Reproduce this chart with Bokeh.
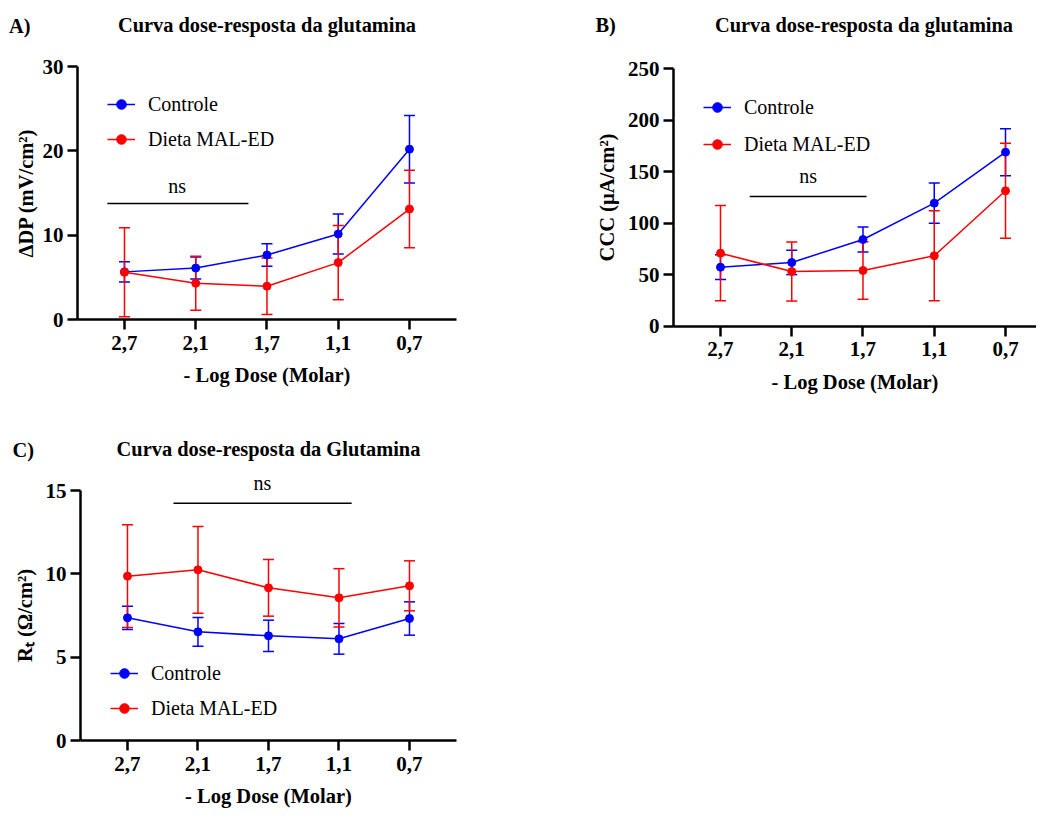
from bokeh.plotting import figure
from bokeh.models import (ColumnDataSource, Whisker, TeeHead, FixedTicker, Label,
                          Legend, LegendItem, Range1d)
from bokeh.layouts import column, row
from bokeh.embed import file_html
from bokeh.resources import INLINE

# ---------------- data ----------------
doses = ["2,7", "2,1", "1,7", "1,1", "0,7"]
series_names = ["Controle", "Dieta MAL-ED"]

# Panel A: ΔDP (mV/cm²)
a_ctrl = [5.65, 6.1, 7.65, 10.15, 20.2]
a_ctrl_err = [1.2, 1.3, 1.33, 2.37, 4.0]
a_diet = [5.6, 4.3, 3.95, 6.75, 13.1]
a_diet_err = [5.27, 3.2, 3.35, 4.4, 4.6]
a_yticks = [0, 10, 20, 30]

# Panel B: CCC (µA/cm²)
b_ctrl = [57.3, 61.9, 84.2, 119.5, 169.0]
b_ctrl_err = [12.0, 11.8, 12.2, 19.6, 22.8]
b_diet = [70.9, 53.1, 54.1, 68.4, 131.5]
b_diet_err = [46.3, 28.7, 28.0, 43.7, 46.1]
b_yticks = [0, 50, 100, 150, 200, 250]

# Panel C: Rt (Ω/cm²)
c_ctrl = [7.36, 6.52, 6.28, 6.10, 7.32]
c_ctrl_err = [0.70, 0.86, 0.94, 0.92, 1.00]
c_diet = [9.86, 10.24, 9.16, 8.56, 9.28]
c_diet_err = [3.08, 2.60, 1.70, 1.75, 1.50]
c_yticks = [0, 5, 10, 15]

BLUE = "#0000ff"
RED = "#ff0000"
SERIF = "Liberation Serif"


def make_panel(ctrl, ctrl_err, diet, diet_err, yticks, ylabel, title, letter,
               width, height, xr, yr, xbounds, title_pos, letter_pos,
               ns_pos, ns_line, legend_loc, legend_spacing, ylabel_standoff):
    p = figure(width=width, height=height, output_backend="svg",
               toolbar_location=None, min_border=0,
               x_range=Range1d(*xr), y_range=Range1d(*yr))
    p.title.visible = False
    p.outline_line_color = None
    p.xgrid.grid_line_color = None
    p.ygrid.grid_line_color = None
    p.background_fill_color = "white"
    p.border_fill_color = "white"

    xs = list(range(len(doses)))
    renderers = []
    for vals, errs, color in ((ctrl, ctrl_err, BLUE), (diet, diet_err, RED)):
        src = ColumnDataSource(dict(
            x=xs, y=vals,
            upper=[v + e for v, e in zip(vals, errs)],
            lower=[v - e for v, e in zip(vals, errs)]))
        w = Whisker(source=src, base="x", upper="upper", lower="lower",
                    line_color=color, line_width=1.5,
                    upper_head=TeeHead(size=11, line_color=color, line_width=1.5),
                    lower_head=TeeHead(size=11, line_color=color, line_width=1.5))
        p.add_layout(w)
        ln = p.line("x", "y", source=src, line_color=color, line_width=1.5)
        sc = p.scatter("x", "y", source=src, size=8, fill_color=color,
                       line_color=color)
        renderers.append((ln, sc))

    # axes, drawn at fixed data positions inside the frame
    for ax in (p.xaxis[0], p.yaxis[0]):
        ax.axis_line_width = 2.5
        ax.axis_line_color = "black"
        ax.major_tick_line_width = 2.5
        ax.major_tick_line_color = "black"
        ax.major_tick_out = 10
        ax.major_tick_in = 0
        ax.minor_tick_line_color = None
        ax.major_label_text_font = SERIF
        ax.major_label_text_font_style = "bold"
        ax.major_label_text_font_size = "21px"
        ax.major_label_text_color = "black"
        ax.axis_label_text_font = SERIF
        ax.axis_label_text_font_style = "bold"
        ax.axis_label_text_font_size = "20.5px"
        ax.axis_label_text_color = "black"

    p.xaxis.ticker = FixedTicker(ticks=xs)
    p.xaxis.major_label_overrides = {i: d for i, d in enumerate(doses)}
    p.xaxis.axis_label = "- Log Dose (Molar)"
    p.xaxis.major_label_standoff = 6
    p.xaxis.axis_label_standoff = 11
    p.xaxis.fixed_location = yticks[0]
    p.xaxis.bounds = xbounds
    p.yaxis.ticker = FixedTicker(ticks=yticks)
    p.yaxis.axis_label = ylabel
    p.yaxis.major_label_standoff = 4
    p.yaxis.axis_label_standoff = ylabel_standoff
    p.yaxis.fixed_location = xbounds[0]
    p.yaxis.bounds = (yticks[0], yticks[-1])

    # legend
    items = [LegendItem(label=n, renderers=list(r))
             for n, r in zip(series_names, renderers)]
    leg = Legend(items=items, location=legend_loc, glyph_width=28,
                 glyph_height=24, label_height=24, label_standoff=13,
                 spacing=legend_spacing, padding=0, margin=0,
                 border_line_color=None, background_fill_alpha=0,
                 label_text_font=SERIF, label_text_font_size="20px",
                 label_text_color="black")
    p.add_layout(leg)

    # ns bracket
    p.line(x=[ns_line[0], ns_line[1]], y=[ns_line[2], ns_line[2]],
           line_color="black", line_width=1.5)
    p.add_layout(Label(x=ns_pos[0], y=ns_pos[1], text="ns", text_align="center",
                       text_baseline="alphabetic", text_font=SERIF,
                       text_font_size="20px", text_color="black"))

    # title and panel letter
    p.add_layout(Label(x=title_pos[0], y=title_pos[1], text=title,
                       text_align="center", text_baseline="alphabetic",
                       text_font=SERIF, text_font_style="bold",
                       text_font_size="20.4px", text_color="black"))
    p.add_layout(Label(x=letter_pos[0], y=letter_pos[1], text=letter,
                       text_align="left", text_baseline="alphabetic",
                       text_font=SERIF, text_font_style="bold",
                       text_font_size="20.4px", text_color="black"))
    return p


pA = make_panel(a_ctrl, a_ctrl_err, a_diet, a_diet_err, a_yticks,
                "ΔDP (mV/cm²)", "Curva dose-resposta da glutamina", "A)",
                width=512, height=416, xr=(-1.740, 5.446), yr=(-11.50, 37.83),
                xbounds=(-0.66, 4.66),
                title_pos=(2.0, 34.98), letter_pos=(-1.62, 34.86),
                ns_pos=(0.74, 15.89), ns_line=(-0.24, 1.74, 13.75),
                legend_loc=(107, 265), legend_spacing=11, ylabel_standoff=3)

pB = make_panel(b_ctrl, b_ctrl_err, b_diet, b_diet_err, b_yticks,
                "CCC (µA/cm²)", "Curva dose-resposta da glutamina", "B)",
                width=524, height=416, xr=(-2.919, 4.435), yr=(-87.7, 316.3),
                xbounds=(-0.66, 4.43),
                title_pos=(2.014, 292.5), letter_pos=(-1.754, 292.1),
                ns_pos=(1.23, 145.4), ns_line=(0.41, 2.05, 126.0),
                legend_loc=(191, 260), legend_spacing=13, ylabel_standoff=7)

pC = make_panel(c_ctrl, c_ctrl_err, c_diet, c_diet_err, c_yticks,
                "Rₜ (Ω/cm²)", "Curva dose-resposta da Glutamina", "C)",
                width=512, height=393, xr=(-1.801, 5.461), yr=(-4.14, 19.44),
                xbounds=(-0.667, 4.667),
                title_pos=(2.0, 17.52), letter_pos=(-1.631, 17.46),
                ns_pos=(1.915, 15.48), ns_line=(0.652, 3.18, 14.24),
                legend_loc=(110, 89), legend_spacing=11, ylabel_standoff=7)

layout = column(row(pA, pB), pC)
open("out.html", "w").write(file_html(layout, INLINE))
